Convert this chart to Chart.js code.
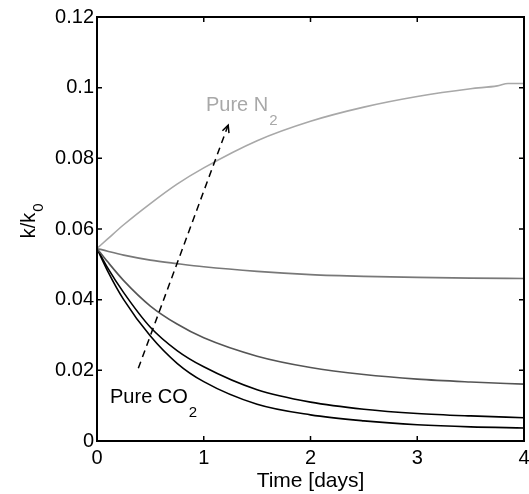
<!DOCTYPE html>
<html>
<head>
<meta charset="utf-8">
<script src="https://cdn.jsdelivr.net/npm/chart.js@4"></script>
<style>
  html, body { margin: 0; padding: 0; background: #fff; }
  #wrap { width: 529px; height: 494px; }
</style>
</head>
<body>
<div id="wrap"><canvas id="chart"></canvas></div>
<script>
// time axis (days)
const timeN2 = [0, 0.1, 0.25, 0.5, 0.75, 1, 1.5, 2, 2.5, 3, 3.5, 3.75, 3.85, 4];
const kN2 = [0.0545, 0.0572, 0.0612, 0.0672, 0.0727, 0.0773, 0.0850, 0.0905, 0.0945, 0.0975, 0.0997, 0.1005, 0.1012, 0.1012];

const times = [0, 0.1, 0.25, 0.5, 0.75, 1, 1.5, 2, 2.5, 3, 3.5, 4];
const kMix1 = [0.0545, 0.0537, 0.0526, 0.0512, 0.0502, 0.0493, 0.0480, 0.0471, 0.0466, 0.0463, 0.0461, 0.0460];
const kMix2 = [0.0545, 0.0507, 0.0454, 0.0382, 0.0331, 0.0292, 0.0240, 0.0208, 0.0188, 0.0175, 0.0167, 0.0161];
const kMix3 = [0.0545, 0.0490, 0.0420, 0.0322, 0.0256, 0.0210, 0.0145, 0.0110, 0.0090, 0.0078, 0.0071, 0.0066];
const kCO2 = [0.0545, 0.0481, 0.0400, 0.0297, 0.0220, 0.0168, 0.0104, 0.0074, 0.0057, 0.0046, 0.0040, 0.0037];

const arrowT = [0.387, 1.229];
const arrowK = [0.0206, 0.0894];

const FONT = '"Liberation Sans", Arial, Helvetica, sans-serif';

function pts(xs, ys) {
  return xs.map((x, i) => ({ x: x, y: ys[i] }));
}

function line(data, color) {
  return {
    data: data,
    borderColor: color,
    borderWidth: 1.6,
    pointRadius: 0,
    fill: false,
    cubicInterpolationMode: 'monotone'
  };
}

// text with a dropped subscript, matlab style
function subText(ctx, x, y, main, sub, drop) {
  ctx.font = '20px ' + FONT;
  ctx.fillText(main, x, y);
  const w = ctx.measureText(main).width;
  ctx.font = '15px ' + FONT;
  ctx.fillText(sub, x + w + 1, y + drop);
}

const frame = {
  id: 'frame',
  afterDatasetsDraw(chart) {
    const ctx = chart.ctx;
    const a = chart.chartArea;
    const xs = chart.scales.x, ys = chart.scales.y;
    ctx.save();

    // dashed arrow
    const x0 = xs.getPixelForValue(arrowT[0]), y0 = ys.getPixelForValue(arrowK[0]);
    const x1 = xs.getPixelForValue(arrowT[1]), y1 = ys.getPixelForValue(arrowK[1]);
    ctx.strokeStyle = '#000';
    ctx.lineWidth = 1.5;
    ctx.setLineDash([7, 5]);
    ctx.beginPath(); ctx.moveTo(x0, y0); ctx.lineTo(x1, y1); ctx.stroke();
    ctx.setLineDash([]);
    const ang = Math.atan2(y1 - y0, x1 - x0);
    ctx.beginPath();
    ctx.moveTo(x1 - 8 * Math.cos(ang - 0.45), y1 - 8 * Math.sin(ang - 0.45));
    ctx.lineTo(x1, y1);
    ctx.lineTo(x1 - 8 * Math.cos(ang + 0.45), y1 - 8 * Math.sin(ang + 0.45));
    ctx.stroke();

    // labels
    ctx.textAlign = 'left';
    ctx.textBaseline = 'alphabetic';
    ctx.fillStyle = '#a8a8a8';
    subText(ctx, xs.getPixelForValue(1.021), ys.getPixelForValue(0.0934), 'Pure N', '2', 14);
    ctx.fillStyle = '#000';
    subText(ctx, xs.getPixelForValue(0.122), ys.getPixelForValue(0.0108), 'Pure CO', '2', 14);

    // box
    ctx.strokeStyle = '#000';
    ctx.lineWidth = 2;
    ctx.strokeRect(a.left, a.top, a.right - a.left, a.bottom - a.top);

    // inward ticks
    ctx.lineWidth = 1.5;
    const tl = 5;
    xs.ticks.forEach((t, i) => {
      const p = xs.getPixelForTick(i);
      ctx.beginPath();
      ctx.moveTo(p, a.bottom); ctx.lineTo(p, a.bottom - tl);
      ctx.moveTo(p, a.top); ctx.lineTo(p, a.top + tl);
      ctx.stroke();
    });
    ys.ticks.forEach((t, i) => {
      const p = ys.getPixelForTick(i);
      ctx.beginPath();
      ctx.moveTo(a.left, p); ctx.lineTo(a.left + tl, p);
      ctx.moveTo(a.right, p); ctx.lineTo(a.right - tl, p);
      ctx.stroke();
    });

    // y title k/k0
    ctx.translate(35, 221);
    ctx.rotate(-Math.PI / 2);
    ctx.font = '20px ' + FONT;
    const w = ctx.measureText('k/k').width + 9;
    subText(ctx, -w / 2, 0, 'k/k', '0', 8);
    ctx.restore();
  }
};

new Chart(document.getElementById('chart'), {
  type: 'line',
  data: {
    datasets: [
      line(pts(timeN2, kN2), '#a8a8a8'),
      line(pts(times, kMix1), '#787878'),
      line(pts(times, kMix2), '#555555'),
      line(pts(times, kMix3), '#000000'),
      line(pts(times, kCO2), '#000000')
    ]
  },
  options: {
    responsive: true,
    maintainAspectRatio: false,
    animation: false,
    layout: { padding: { left: 0, right: 5, top: 17, bottom: 0 } },
    plugins: { legend: { display: false }, tooltip: { enabled: false } },
    scales: {
      x: {
        type: 'linear',
        min: 0, max: 4,
        grid: { display: false, drawTicks: false },
        border: { display: false },
        ticks: { stepSize: 1, color: '#000', padding: 5, font: { family: FONT, size: 20 } },
        title: { display: true, text: 'Time [days]', color: '#000', padding: { top: -4, bottom: 0 }, font: { family: FONT, size: 21 } },
        afterFit(scale) { scale.height = 53; scale.paddingLeft = 0; scale.paddingRight = 0; }
      },
      y: {
        min: 0, max: 0.12,
        grid: { display: false, drawTicks: false },
        border: { display: false },
        ticks: {
          stepSize: 0.02, color: '#000', padding: 3,
          font: { family: FONT, size: 20 },
          callback: v => String(+v.toFixed(2))
        },
        afterFit(scale) { scale.width = 97; scale.paddingTop = 0; scale.paddingBottom = 0; }
      }
    }
  },
  plugins: [frame]
});
</script>
</body>
</html>
